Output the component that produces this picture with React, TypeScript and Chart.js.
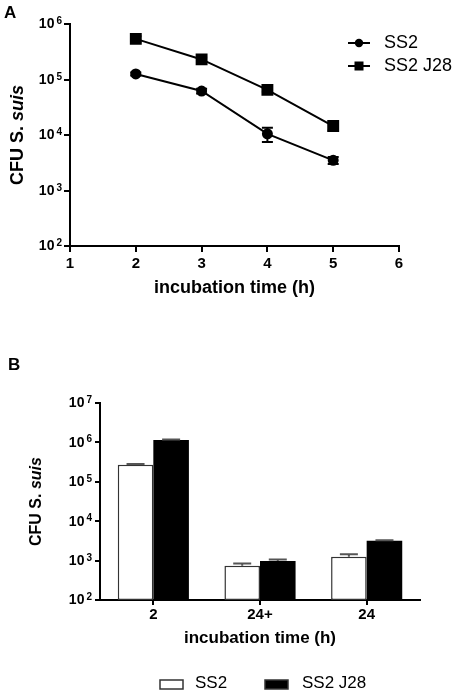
import React, { useEffect, useRef } from 'react';
import { Chart, registerables } from 'chart.js';
Chart.register(...registerables);

const FONT = '"Liberation Sans", Arial, Helvetica, sans-serif';

// ---------- Panel A data ----------
const timesA = [2, 3, 4, 5];
const ss2A = [126000, 62000, 10500, 3500];
const ss2ErrA = [8000, 6000, 3000, 500];
const j28A = [540000, 230000, 65000, 14500];
const j28ErrA = [60000, 20000, 5000, 2500];
const yTicksA = [1e2, 1e3, 1e4, 1e5, 1e6];
const seriesNames = ['SS2', 'SS2 J28'];

// ---------- Panel B data ----------
const categoriesB = ['2', '24+', '24'];
const ss2B = [270000, 740, 1260];
const ss2ErrB = [15000, 110, 180];
const j28B = [1150000, 980, 3200];
const j28ErrB = [40000, 80, 100];
const yTicksB = [1e2, 1e3, 1e4, 1e5, 1e6, 1e7];

const W = 457;
const HA = 345;
const HB = 348;

function superTicks(size: number, supSize: number) {
  return {
    id: 'superTicks',
    afterDraw(chart: any) {
      const s = chart.scales.y;
      const ctx = chart.ctx;
      ctx.save();
      ctx.fillStyle = '#000';
      s.ticks.forEach((t: any) => {
        const y = s.getPixelForValue(t.value);
        const exp = String(Math.round(Math.log10(t.value)));
        const right = chart.chartArea.left - 8;
        ctx.font = `bold ${supSize}px ${FONT}`;
        const ew = ctx.measureText(exp).width;
        ctx.textAlign = 'left';
        ctx.textBaseline = 'alphabetic';
        ctx.fillText(exp, right - ew, y);
        ctx.font = `bold ${size}px ${FONT}`;
        ctx.textAlign = 'right';
        ctx.textBaseline = 'middle';
        ctx.fillText('10', right - ew - 2, y + 0.5);
      });
      ctx.restore();
    },
  };
}

function yTitle(x: number, size: number) {
  return {
    id: 'yTitle',
    afterDraw(chart: any) {
      const ctx = chart.ctx;
      const { top, bottom } = chart.chartArea;
      const cy = (top + bottom) / 2;
      const a = 'CFU S. ';
      const b = 'suis';
      ctx.save();
      ctx.translate(x, cy);
      ctx.rotate(-Math.PI / 2);
      ctx.fillStyle = '#000';
      ctx.textBaseline = 'middle';
      ctx.textAlign = 'left';
      ctx.font = `bold ${size}px ${FONT}`;
      const wa = ctx.measureText(a).width;
      ctx.font = `italic bold ${size}px ${FONT}`;
      const wb = ctx.measureText(b).width;
      const start = -(wa + wb) / 2;
      ctx.font = `bold ${size}px ${FONT}`;
      ctx.fillText(a, start, 0);
      ctx.font = `italic bold ${size}px ${FONT}`;
      ctx.fillText(b, start + wa, 0);
      ctx.restore();
    },
  };
}

function panelLabel(text: string, x: number, y: number) {
  return {
    id: 'panelLabel',
    afterDraw(chart: any) {
      const ctx = chart.ctx;
      ctx.save();
      ctx.fillStyle = '#000';
      ctx.font = `bold 17px ${FONT}`;
      ctx.textAlign = 'left';
      ctx.textBaseline = 'alphabetic';
      ctx.fillText(text, x, y);
      ctx.restore();
    },
  };
}

function errorBars(capHalf: number, color: string, upOnly: boolean) {
  return {
    id: 'errorBars',
    afterDatasetsDraw(chart: any) {
      const ctx = chart.ctx;
      const ys = chart.scales.y;
      ctx.save();
      ctx.strokeStyle = color;
      ctx.lineWidth = 2;
      chart.data.datasets.forEach((ds: any, i: number) => {
        const errs = ds.errors;
        if (!errs) return;
        const meta = chart.getDatasetMeta(i);
        meta.data.forEach((el: any, j: number) => {
          const v = meta._parsed[j].y;
          const e = errs[j];
          const yTop = ys.getPixelForValue(v + e);
          const yBot = upOnly ? ys.getPixelForValue(v) : ys.getPixelForValue(Math.max(v - e, 1));
          const x = el.x;
          ctx.beginPath();
          ctx.moveTo(x, yTop);
          ctx.lineTo(x, yBot);
          ctx.moveTo(x - capHalf, yTop);
          ctx.lineTo(x + capHalf, yTop);
          if (!upOnly) {
            ctx.moveTo(x - capHalf, yBot);
            ctx.lineTo(x + capHalf, yBot);
          }
          ctx.stroke();
        });
      });
      ctx.restore();
    },
  };
}

const legendA = {
  id: 'legendA',
  afterDraw(chart: any) {
    const ctx = chart.ctx;
    const rows = [43, 66];
    ctx.save();
    chart.data.datasets.forEach((ds: any, i: number) => {
      const y = rows[i];
      ctx.strokeStyle = '#000';
      ctx.fillStyle = '#000';
      ctx.lineWidth = 2;
      ctx.beginPath();
      ctx.moveTo(348, y);
      ctx.lineTo(370, y);
      ctx.stroke();
      if (ds.pointStyle === 'rect') {
        ctx.fillRect(359 - 4.5, y - 4.5, 9, 9);
      } else {
        ctx.beginPath();
        ctx.arc(359, y, 4.2, 0, Math.PI * 2);
        ctx.fill();
      }
      ctx.font = `18px ${FONT}`;
      ctx.textAlign = 'left';
      ctx.textBaseline = 'middle';
      ctx.fillText(ds.label, 384, y);
    });
    ctx.restore();
  },
};

const legendB = {
  id: 'legendB',
  afterDraw(chart: any) {
    const ctx = chart.ctx;
    const y = 683 - 345;
    const boxX = [160, 265];
    const textX = [195, 302];
    ctx.save();
    chart.data.datasets.forEach((ds: any, i: number) => {
      ctx.fillStyle = ds.backgroundColor;
      ctx.fillRect(boxX[i], y - 3, 23, 9);
      ctx.strokeStyle = '#333';
      ctx.lineWidth = 1.5;
      ctx.strokeRect(boxX[i], y - 3, 23, 9);
      ctx.fillStyle = '#000';
      ctx.font = `17px ${FONT}`;
      ctx.textAlign = 'left';
      ctx.textBaseline = 'middle';
      ctx.fillText(ds.label, textX[i], y);
    });
    ctx.restore();
  },
};

function axisGrid(tickLength: number) {
  return {
    display: true,
    drawOnChartArea: false,
    drawTicks: true,
    tickLength,
    color: '#000',
    lineWidth: 2,
  };
}

export default function App() {
  const refA = useRef<HTMLCanvasElement>(null);
  const refB = useRef<HTMLCanvasElement>(null);

  useEffect(() => {
    const areaA = { left: 70, right: 399, top: 24, bottom: 246 };
    const chartA = new Chart(refA.current as HTMLCanvasElement, {
      type: 'line',
      data: {
        datasets: [
          {
            label: seriesNames[0],
            data: timesA.map((t, i) => ({ x: t, y: ss2A[i] })),
            errors: ss2ErrA,
            borderColor: '#000',
            backgroundColor: '#000',
            borderWidth: 2,
            pointStyle: 'circle',
            pointRadius: 4.5,
            pointBackgroundColor: '#000',
            pointBorderColor: '#000',
            tension: 0,
          } as any,
          {
            label: seriesNames[1],
            data: timesA.map((t, i) => ({ x: t, y: j28A[i] })),
            errors: j28ErrA,
            borderColor: '#000',
            backgroundColor: '#000',
            borderWidth: 2,
            pointStyle: 'rect',
            pointRadius: 7,
            pointBackgroundColor: '#000',
            pointBorderColor: '#000',
            tension: 0,
          } as any,
        ],
      },
      options: {
        animation: false,
        responsive: false,
        devicePixelRatio: 1,
        layout: { padding: { left: 0, top: areaA.top, right: W - areaA.right, bottom: 0 } },
        plugins: { legend: { display: false }, tooltip: { enabled: false } },
        scales: {
          x: {
            type: 'linear',
            min: 1,
            max: 6,
            ticks: { stepSize: 1, color: '#000', font: { family: FONT, size: 15, weight: 'bold' }, padding: 3 },
            grid: axisGrid(6),
            border: { display: true, color: '#000', width: 2 },
            title: {
              display: true,
              text: 'incubation time (h)',
              color: '#000',
              font: { family: FONT, size: 18, weight: 'bold' },
              padding: { top: 0, bottom: HA - 288 - 10.8 },
            },
            afterFit: (s: any) => { s.height = HA - areaA.bottom; },
          },
          y: {
            type: 'logarithmic',
            min: 1e2,
            max: 1e6,
            ticks: { display: false },
            grid: axisGrid(6),
            border: { display: true, color: '#000', width: 2 },
            afterBuildTicks: (s: any) => { s.ticks = yTicksA.map((v) => ({ value: v })); },
            afterFit: (s: any) => { s.width = areaA.left; },
          },
        },
      } as any,
      plugins: [errorBars(5.5, '#000', false), superTicks(14, 10), yTitle(18.5, 18), panelLabel('A', 4, 18), legendA],
    });

    const areaB = { left: 100, right: 420, top: 58, bottom: 255 };
    const chartB = new Chart(refB.current as HTMLCanvasElement, {
      type: 'bar',
      data: {
        labels: categoriesB,
        datasets: [
          {
            label: seriesNames[0],
            data: ss2B,
            errors: ss2ErrB,
            backgroundColor: '#ffffff',
            borderColor: '#333',
            borderWidth: 1.5,
            borderSkipped: false,
          } as any,
          {
            label: seriesNames[1],
            data: j28B,
            errors: j28ErrB,
            backgroundColor: '#000000',
            borderColor: '#000',
            borderWidth: 0,
          } as any,
        ],
      },
      options: {
        animation: false,
        responsive: false,
        devicePixelRatio: 1,
        layout: { padding: { left: 0, top: areaB.top, right: W - areaB.right, bottom: 0 } },
        plugins: { legend: { display: false }, tooltip: { enabled: false } },
        datasets: { bar: { categoryPercentage: 0.667, barPercentage: 1.0 } },
        scales: {
          x: {
            type: 'category',
            offset: true,
            ticks: { color: '#000', font: { family: FONT, size: 15, weight: 'bold' }, padding: 1 },
            grid: { ...axisGrid(5), offset: false },
            border: { display: true, color: '#000', width: 2 },
            title: {
              display: true,
              text: 'incubation time (h)',
              color: '#000',
              font: { family: FONT, size: 17, weight: 'bold' },
              padding: { top: 0, bottom: HB - (638 - 345) - 10.2 },
            },
            afterFit: (s: any) => { s.height = HB - areaB.bottom; },
          },
          y: {
            type: 'logarithmic',
            min: 1e2,
            max: 1e7,
            ticks: { display: false },
            grid: axisGrid(5),
            border: { display: true, color: '#000', width: 2 },
            afterBuildTicks: (s: any) => { s.ticks = yTicksB.map((v) => ({ value: v })); },
            afterFit: (s: any) => { s.width = areaB.left; },
          },
        },
      } as any,
      plugins: [errorBars(9, '#555', true), superTicks(14, 10), yTitle(36.5, 16), panelLabel('B', 8, 370 - 345), legendB],
    });

    return () => {
      chartA.destroy();
      chartB.destroy();
    };
  }, []);

  return (
    <div style={{ position: 'absolute', left: 0, top: 0, width: W, height: 693, background: '#fff' }}>
      <canvas ref={refA} width={W} height={HA} style={{ position: 'absolute', left: 0, top: 0, width: W, height: HA }} />
      <canvas ref={refB} width={W} height={HB} style={{ position: 'absolute', left: 0, top: HA, width: W, height: HB }} />
    </div>
  );
}
